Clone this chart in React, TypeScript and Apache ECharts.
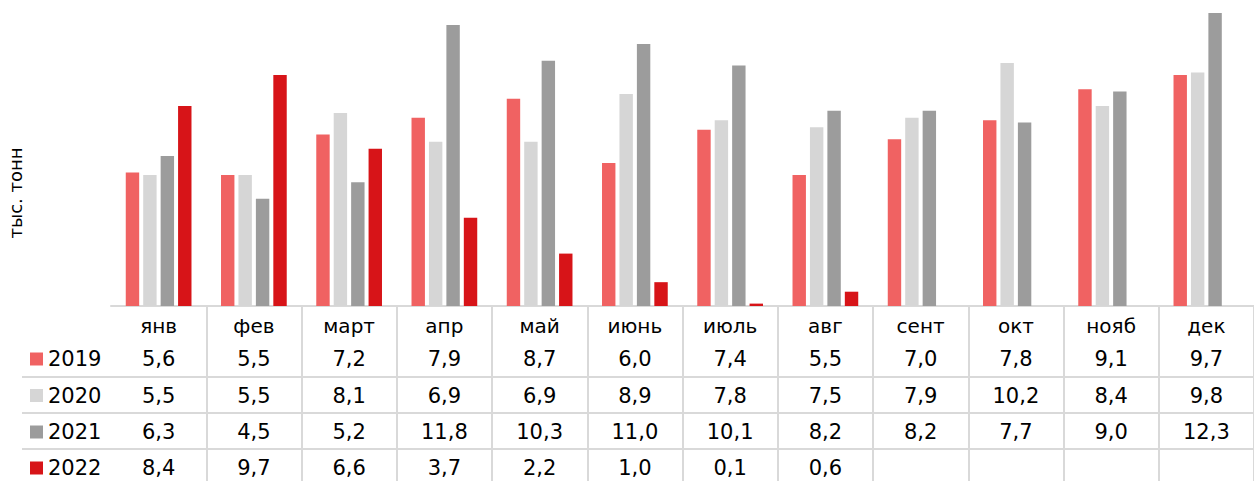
import React, { useEffect, useRef } from "react";
import * as echarts from "echarts";

const months = ["янв", "фев", "март", "апр", "май", "июнь", "июль", "авг", "сент", "окт", "нояб", "дек"];
const years = ["2019", "2020", "2021", "2022"];
const v2019 = [5.6, 5.5, 7.2, 7.9, 8.7, 6.0, 7.4, 5.5, 7.0, 7.8, 9.1, 9.7];
const v2020 = [5.5, 5.5, 8.1, 6.9, 6.9, 8.9, 7.8, 7.5, 7.9, 10.2, 8.4, 9.8];
const v2021 = [6.3, 4.5, 5.2, 11.8, 10.3, 11.0, 10.1, 8.2, 8.2, 7.7, 9.0, 12.3];
const v2022 = [8.4, 9.7, 6.6, 3.7, 2.2, 1.0, 0.1, 0.6, null, null, null, null];
const colors = ["#f06262", "#d6d6d6", "#9c9c9c", "#d71418"];
const yTitle = "тыс. тонн";

const FONT = "DejaVu Sans";

export default function App() {
  const ref = useRef<HTMLDivElement>(null);
  useEffect(() => {
    document.body.style.margin = "0";
    const chart = echarts.init(ref.current!, null, { renderer: "svg" });
    const seriesData = [v2019, v2020, v2021, v2022];
    const fmt = (v: number | null) => (v == null ? "" : v.toFixed(1).replace(".", ","));
    const rowCenters = [359, 395.5, 432, 468];
    const axisY = 306;
    const valueAxes = seriesData.map((arr, i) => ({
      type: "category",
      gridIndex: 0,
      position: "bottom",
      offset: rowCenters[i] - axisY,
      data: arr.map(fmt),
      axisLine: { show: false },
      axisTick: { show: false },
      splitLine: { show: false },
      axisLabel: {
        interval: 0,
        margin: 0,
        verticalAlign: "middle",
        fontFamily: FONT,
        fontSize: 21,
        color: "#000",
      },
    }));
    const hLines = [377, 413, 449].map((y) => ({
      type: "line",
      shape: { x1: 22, y1: y, x2: 1254, y2: y },
      style: { stroke: "#d9d9d9", lineWidth: 2 },
      silent: true,
    }));
    const legendItems = years.flatMap((yr, i) => [
      {
        type: "rect",
        shape: { x: 30, y: rowCenters[i] - 6.5, width: 13, height: 13 },
        style: { fill: colors[i] },
        silent: true,
      },
      {
        type: "text",
        x: 48,
        y: rowCenters[i],
        style: {
          text: yr,
          fontFamily: FONT,
          fontSize: 21,
          fill: "#000",
          textAlign: "left",
          textVerticalAlign: "middle",
        },
        silent: true,
      },
    ]);
    chart.setOption({
      animation: false,
      grid: { left: 111, right: -5, top: 13, bottom: 175, containLabel: false },
      xAxis: [
        {
          type: "category",
          data: months,
          position: "bottom",
          axisLine: { show: true, lineStyle: { color: "#d9d9d9", width: 2 } },
          axisTick: {
            show: true,
            length: 175,
            interval: (index: number) => index !== 0,
            lineStyle: { color: "#d9d9d9", width: 2 },
          },
          axisLabel: {
            interval: 0,
            margin: 20,
            verticalAlign: "middle",
            fontFamily: FONT,
            fontSize: 20,
            color: "#000",
          },
        },
        ...valueAxes,
      ],
      yAxis: {
        type: "value",
        min: 0,
        max: 12.3,
        axisLine: { show: false },
        axisTick: { show: false },
        axisLabel: { show: false },
        splitLine: { show: false },
      },
      graphic: [
        ...hLines,
        ...legendItems,
        {
          type: "text",
          x: 15,
          y: 193,
          rotation: Math.PI / 2,
          style: {
            text: yTitle,
            fontFamily: FONT,
            fontSize: 18,
            fill: "#000",
            textAlign: "center",
            textVerticalAlign: "middle",
          },
        },
      ],
      series: seriesData.map((arr, i) => ({
        name: years[i],
        type: "bar",
        xAxisIndex: 0,
        data: arr,
        barGap: "30%",
        barCategoryGap: "31%",
        itemStyle: { color: colors[i] },
      })),
    });
    return () => chart.dispose();
  }, []);
  return <div ref={ref} style={{ width: 1254, height: 481 }} />;
}
